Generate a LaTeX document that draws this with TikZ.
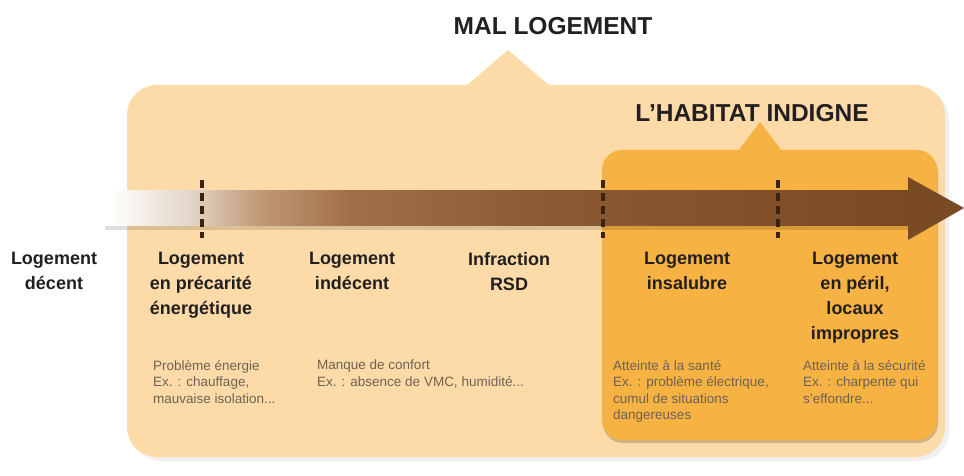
\documentclass[tikz,border=0pt]{standalone}
\usepackage{fontspec}
\setmainfont{Liberation Sans}
\usetikzlibrary{shadows}
\definecolor{outerc}{RGB}{252,219,168}
\definecolor{innerc}{RGB}{246,178,66}
\definecolor{markc}{RGB}{59,35,14}
\definecolor{labc}{RGB}{35,31,32}
\definecolor{smallc}{RGB}{110,98,84}
\definecolor{bA}{RGB}{226,214,200}
\definecolor{bB}{RGB}{192,152,118}
\definecolor{bC}{RGB}{162,112,72}
\definecolor{bD}{RGB}{140,90,50}
\definecolor{bE}{RGB}{122,74,34}
\pgfdeclarehorizontalshading{arrowbody}{100bp}{color(0bp)=(white); color(25bp)=(white); color(26.8bp)=(white); color(31.6bp)=(bA); color(35.8bp)=(bB); color(41.2bp)=(bC); color(53.2bp)=(bD); color(75bp)=(bE); color(100bp)=(bE)}
\tikzset{
  title/.style={font=\bfseries\fontsize{24.5}{29}\selectfont, text=labc, inner sep=0pt, anchor=center},
  lab/.style={font=\bfseries\fontsize{18}{25}\selectfont, text=labc, inner sep=0pt, anchor=north, align=center},
  small/.style={font=\fontsize{13.5}{16.5}\selectfont, text=smallc, inner sep=0pt, anchor=north west, align=left},
  marker/.style={draw=markc, line width=3.6pt, dash pattern=on 8pt off 5pt},
}
\begin{document}
\begin{tikzpicture}[x=1pt,y=-1pt]
\useasboundingbox (0,0) rectangle (964,476);
% outer box
\fill[outerc, rounded corners=30, drop shadow={opacity=0.12, shadow xshift=4pt, shadow yshift=-4pt}] (127,85) rectangle (945,457);
\fill[outerc] (466,86) -- (508,50) -- (550,86) -- cycle;
% inner box
\fill[innerc, rounded corners=20, drop shadow={opacity=0.3, shadow xshift=1pt, shadow yshift=-3pt, fill=brown!60!black}] (602,150) rectangle (937,440);
\fill[innerc] (738,151) -- (760,122) -- (782,151) -- cycle;
% titles
\node[title] (mal) at (553,26) {MAL LOGEMENT};
\node[title] (hab) at (752,113) {L'HABITAT INDIGNE};
% arrow
\fill[black, opacity=0.13] (105,224) rectangle (910,230);
\shade[shading=arrowbody] (80,190) rectangle (912,225);
\fill[bE] (908,177) -- (964,208) -- (908,240) -- cycle;
\coordinate (m1t) at (202,180); \coordinate (m1b) at (202,238);
\coordinate (m2t) at (603,180); \coordinate (m2b) at (603,238);
\coordinate (m3t) at (778,180); \coordinate (m3b) at (778,238);
\draw[marker] (m1t) -- (m1b);
\draw[marker] (m2t) -- (m2b);
\draw[marker] (m3t) -- (m3b);
% labels
\node[lab] (l1) at (54,252) {Logement\\décent};
\node[lab] (l2) at (201,252) {Logement\\en précarité\\énergétique};
\node[lab] (l3) at (352,252) {Logement\\indécent};
\node[lab] (l4) at (509,252) {Infraction\\RSD};
\node[lab] (l5) at (687,252) {Logement\\insalubre};
\node[lab] (l6) at (855,252) {Logement\\en péril,\\locaux\\impropres};
% descriptions
\node[small] (d1) at (153,360) {Problème énergie\\Ex. : chauffage,\\mauvaise isolation...};
\node[small] (d2) at (317,360) {Manque de confort\\Ex. : absence de VMC, humidité...};
\node[small] (d3) at (613,360) {Atteinte à la santé\\Ex. : problème électrique,\\cumul de situations\\dangereuses};
\node[small] (d4) at (803,360) {Atteinte à la sécurité\\Ex. : charpente qui\\s'effondre...};
\end{tikzpicture}
\end{document}
